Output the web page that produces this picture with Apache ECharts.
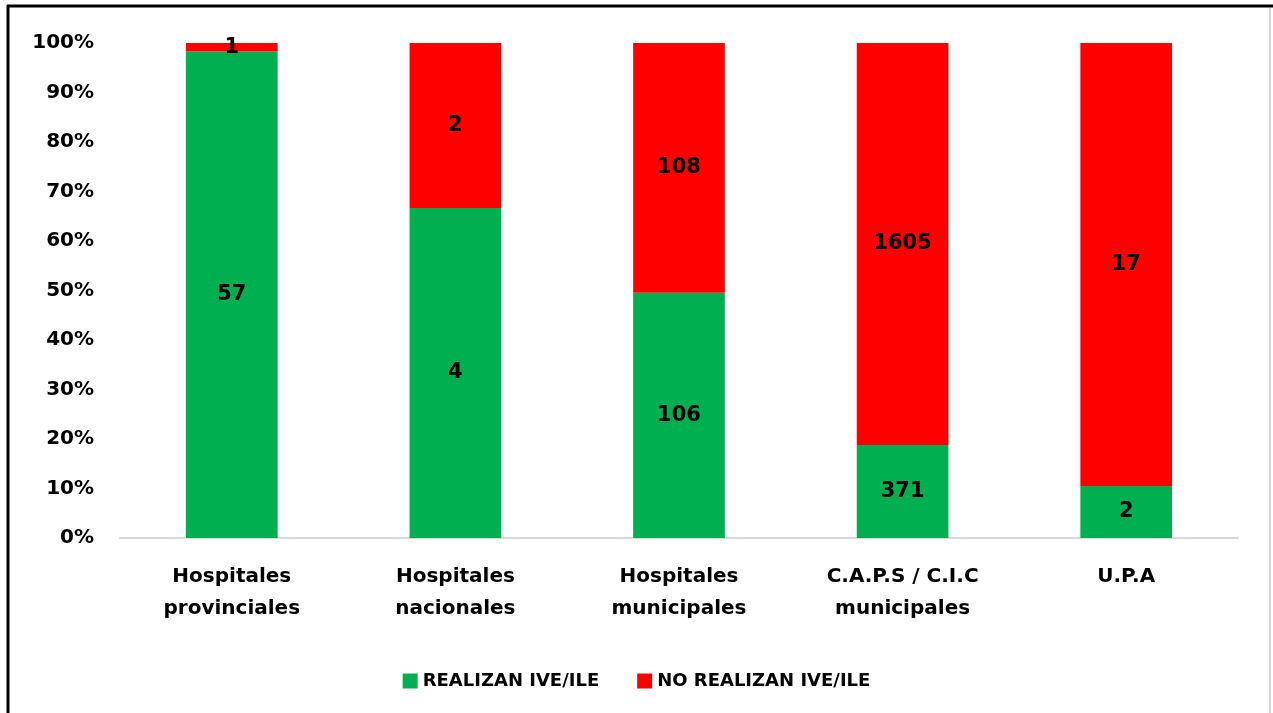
<!DOCTYPE html>
<html>
<head>
<meta charset="utf-8">
<style>
  html, body { margin: 0; padding: 0; background: #fff; }
  #chart { width: 1273px; height: 713px; }
</style>
<script src="https://cdn.jsdelivr.net/npm/echarts@6/dist/echarts.min.js"></script>
</head>
<body>
<div id="chart"></div>
<script>
// datos del gráfico
var categorias = ['Hospitales\nprovinciales', 'Hospitales\nnacionales', 'Hospitales\nmunicipales', 'C.A.P.S / C.I.C\nmunicipales', 'U.P.A'];
var realizan = [57, 4, 106, 371, 2];
var noRealizan = [1, 2, 108, 1605, 17];
var ticksY = [0, 10, 20, 30, 40, 50, 60, 70, 80, 90, 100];

var fuente = '"DejaVu Sans", "Open Sans", sans-serif';

// pasar a porcentaje (100% apilado)
function pct(arr, i) {
  var total = realizan[i] + noRealizan[i];
  return arr[i] / total * 100;
}
var realizanPct = realizan.map(function (v, i) { return { value: pct(realizan, i), cuenta: v }; });
var noRealizanPct = noRealizan.map(function (v, i) { return { value: pct(noRealizan, i), cuenta: v }; });

var mChart = echarts.init(document.getElementById('chart'));

var etiqueta = {
  show: true,
  position: 'inside',
  color: '#000',
  fontFamily: fuente,
  fontWeight: 'bold',
  fontSize: 21,
  formatter: function (p) { return p.data.cuenta; }
};

var option = {
  backgroundColor: '#fff',
  animation: false,
  textStyle: { fontFamily: fuente },
  grid: { left: 120, right: 35, top: 43, bottom: 175 },
  legend: {
    top: 667,
    left: 'center',
    itemWidth: 15,
    itemHeight: 15,
    itemGap: 38,
    icon: 'rect',
    textStyle: { fontFamily: fuente, fontWeight: 'bold', fontSize: 18, color: '#000' },
    data: ['REALIZAN IVE/ILE', 'NO REALIZAN IVE/ILE']
  },
  xAxis: {
    type: 'category',
    data: categorias,
    axisLine: { lineStyle: { color: '#d9d9d9', width: 2 } },
    axisTick: { show: false },
    axisLabel: {
      color: '#000',
      fontFamily: fuente,
      fontWeight: 'bold',
      fontSize: 20,
      lineHeight: 32,
      margin: 23,
      interval: 0
    }
  },
  yAxis: {
    type: 'value',
    min: 0,
    max: 100,
    interval: 10,
    axisLine: { show: false },
    axisTick: { show: false },
    splitLine: { show: false },
    axisLabel: {
      color: '#000',
      fontFamily: fuente,
      fontWeight: 'bold',
      fontSize: 20,
      margin: 26,
      formatter: function (v) { return ticksY.indexOf(v) >= 0 ? v + '%' : ''; }
    }
  },
  series: [
    {
      name: 'REALIZAN IVE/ILE',
      type: 'bar',
      stack: 'total',
      barWidth: '41%',
      itemStyle: { color: '#00b050' },
      label: etiqueta,
      data: realizanPct
    },
    {
      name: 'NO REALIZAN IVE/ILE',
      type: 'bar',
      stack: 'total',
      barWidth: '41%',
      itemStyle: { color: '#ff0000' },
      label: etiqueta,
      data: noRealizanPct
    }
  ],
  graphic: [
    // marco de la imagen
    { type: 'line', shape: { x1: 7, y1: 6, x2: 1273, y2: 6 }, style: { stroke: '#000', lineWidth: 3 } },
    { type: 'line', shape: { x1: 8, y1: 5, x2: 8, y2: 713 }, style: { stroke: '#000', lineWidth: 3 } },
    { type: 'line', shape: { x1: 1270, y1: 8, x2: 1270, y2: 713 }, style: { stroke: '#d4d4d4', lineWidth: 2 } }
  ]
};

mChart.setOption(option);
</script>
</body>
</html>
